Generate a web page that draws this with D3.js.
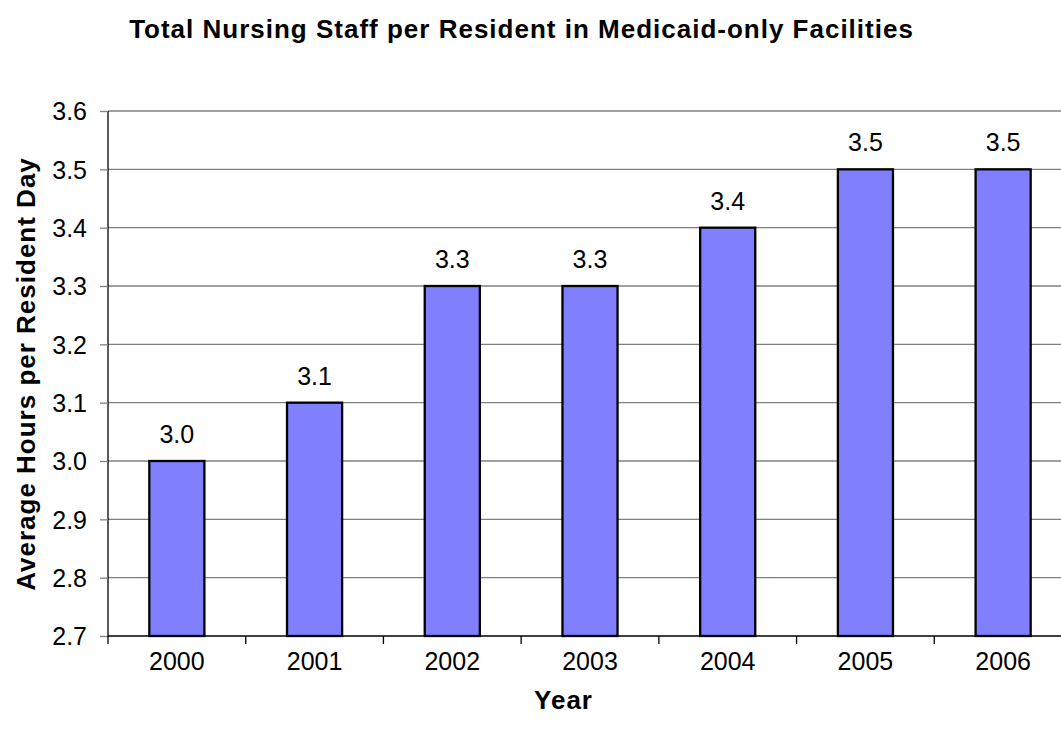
<!DOCTYPE html>
<html>
<head>
<meta charset="utf-8">
<script src="https://cdn.jsdelivr.net/npm/d3@7"></script>
<style>
  html, body { margin: 0; padding: 0; background: #fff; }
  svg { display: block; font-family: Arial, "Liberation Sans", sans-serif; }
</style>
</head>
<body>
<div id="chart"></div>
<script>
var years = ["2000", "2001", "2002", "2003", "2004", "2005", "2006"];
var hours = [3.0, 3.1, 3.3, 3.3, 3.4, 3.5, 3.5];
var yTicks = [2.7, 2.8, 2.9, 3.0, 3.1, 3.2, 3.3, 3.4, 3.5, 3.6];

var width = 1061, height = 731;
var margin = {top: 111, right: -11, bottom: 95, left: 108};
var w = width - margin.left - margin.right,
    h = height - margin.top - margin.bottom;

var boldSpacing = 1.0;

var svg = d3.select("#chart").append("svg")
    .attr("width", width)
    .attr("height", height);

// title
svg.append("text")
    .attr("x", 521 + boldSpacing / 2)
    .attr("y", 38)
    .attr("text-anchor", "middle")
    .style("font-size", "26px")
    .style("font-weight", "bold")
    .style("letter-spacing", boldSpacing + "px")
    .text("Total Nursing Staff per Resident in Medicaid-only Facilities");

var g = svg.append("g")
    .attr("transform", "translate(" + margin.left + "," + margin.top + ")");

var xScale = d3.scaleBand().domain(years).range([0, w]);
var yScale = d3.scaleLinear().domain([2.7, 3.6]).range([h, 0]);

// gridlines
g.append("g")
    .selectAll("line")
    .data(yTicks.slice(1))
    .enter()
    .append("line")
    .attr("x1", 0)
    .attr("x2", w)
    .attr("y1", function(d) { return yScale(d); })
    .attr("y2", function(d) { return yScale(d); })
    .style("stroke", "#808080")
    .style("stroke-width", 1.3);

// bars
var barW = xScale.bandwidth() * 0.4;
g.append("g")
    .selectAll("rect")
    .data(hours)
    .enter()
    .append("rect")
    .attr("x", function(d, i) { return xScale(years[i]) + (xScale.bandwidth() - barW) / 2; })
    .attr("y", function(d) { return yScale(d); })
    .attr("width", barW)
    .attr("height", function(d) { return h - yScale(d); })
    .style("fill", "#8080FF")
    .style("stroke", "#000")
    .style("stroke-width", 2.3);

// value labels
g.append("g")
    .selectAll("text")
    .data(hours)
    .enter()
    .append("text")
    .attr("x", function(d, i) { return xScale(years[i]) + xScale.bandwidth() / 2; })
    .attr("y", function(d) { return yScale(d) - 18; })
    .attr("text-anchor", "middle")
    .style("font-size", "25px")
    .text(function(d) { return d3.format(".1f")(d); });

// y axis
var yAxis = d3.axisLeft(yScale)
    .tickValues(yTicks)
    .tickFormat(d3.format(".1f"))
    .tickSize(8)
    .tickPadding(13);
var yG = g.append("g").call(yAxis);
yG.select(".domain").style("stroke", "#000").style("stroke-width", 1.3)
    .attr("d", "M0,0V" + h);
yG.selectAll(".tick line").style("stroke", "#808080").style("stroke-width", 1.3);
yG.selectAll(".tick text")
    .attr("dy", "0.35em")
    .style("font-size", "25px")
    .style("font-family", "Arial, 'Liberation Sans', sans-serif")
    .style("fill", "#000");

// x axis
var bounds = years.map(function(d) { return xScale(d); }).concat([w]);
var xG = g.append("g").attr("transform", "translate(0," + h + ")");
xG.append("line")
    .attr("x1", 0).attr("x2", w)
    .style("stroke", "#000").style("stroke-width", 1.3);
xG.selectAll("line.tk")
    .data(bounds)
    .enter()
    .append("line")
    .attr("class", "tk")
    .attr("x1", function(d) { return d; })
    .attr("x2", function(d) { return d; })
    .attr("y1", 0)
    .attr("y2", 8)
    .style("stroke", "#000")
    .style("stroke-width", 1.3);
xG.selectAll("text")
    .data(years)
    .enter()
    .append("text")
    .attr("x", function(d) { return xScale(d) + xScale.bandwidth() / 2; })
    .attr("y", 34)
    .attr("text-anchor", "middle")
    .style("font-size", "25px")
    .text(function(d) { return d; });

// axis titles
svg.append("text")
    .attr("x", 563 + boldSpacing / 2)
    .attr("y", 709)
    .attr("text-anchor", "middle")
    .style("font-size", "26px")
    .style("font-weight", "bold")
    .style("letter-spacing", boldSpacing + "px")
    .text("Year");

svg.append("text")
    .attr("transform", "translate(35," + (margin.top + h / 2 + boldSpacing / 2) + ") rotate(-90)")
    .attr("text-anchor", "middle")
    .style("font-size", "26px")
    .style("font-weight", "bold")
    .style("letter-spacing", boldSpacing + "px")
    .text("Average Hours per Resident Day");
</script>
</body>
</html>
